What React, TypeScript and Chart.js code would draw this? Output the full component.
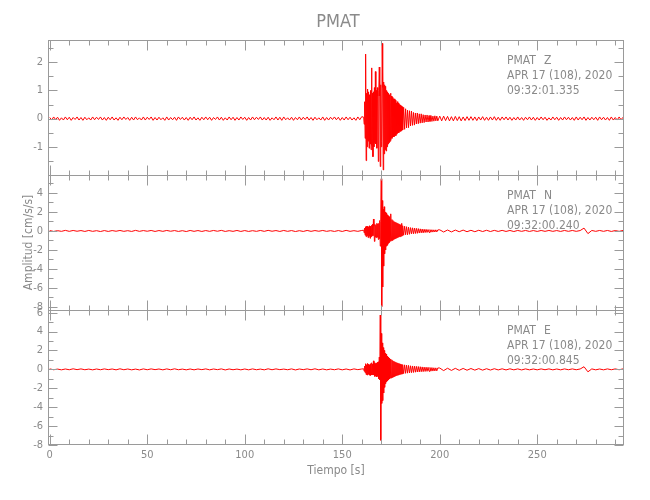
import React, { useEffect, useRef } from "react";
import { Chart, registerables } from "chart.js";

Chart.register(...registerables);

// ---------------- data ----------------
const STATION = "PMAT";
const DATE_LABEL = "APR 17 (108), 2020";
const COMPONENTS = ["Z", "N", "E"];
const START_TIMES = ["09:32:01.335", "09:32:00.240", "09:32:00.845"];
const X_TITLE = "Tiempo [s]";
const Y_TITLE = "Amplitud [cm/s/s]";

const X_TICKS = [0, 50, 100, 150, 200, 250];
const X_MINOR_STEP = 10;
const X_RANGE = [-0.9, 294.5];

const Z_TICKS = [-1, 0, 1, 2];
const N_TICKS = [-8, -6, -4, -2, 0, 2, 4];
const E_TICKS = [-8, -6, -4, -2, 0, 2, 4, 6];
const Z_RANGE = [-2.0, 2.79];
const N_RANGE = [-8.32, 5.89];
const E_RANGE = [-8.0, 6.28];
const Z_MINOR_STEP = 0.5;
const N_MINOR_STEP = 1;
const E_MINOR_STEP = 1;

// sampling: [start time (s), sample step (s)]
const Z_PRE_SAMPLING = [0, 1];
const NE_PRE_SAMPLING = [0, 2];
const ONSET_SAMPLING = [161, 0.25];
const DECAY_SAMPLING = [181.5, 0.5];
const Z_CODA_SAMPLING = [200, 1];
const NE_CODA_SAMPLING = [200, 2];

// Z component (cm/s/s)
const Z_PRE = [
  0.04, -0.05, 0.06, -0.03, 0.05, -0.06, 0.03, -0.05, 0.06, -0.04,
  0.05, -0.06, 0.04, -0.03, 0.06, -0.05, 0.04, -0.06, 0.05, -0.04,
  0.03, -0.05, 0.06, -0.04, 0.05, -0.03, 0.06, -0.05, 0.04, -0.06,
  0.05, -0.04, 0.06, -0.05, 0.03, -0.06, 0.05, -0.04, 0.06, -0.03,
  0.04, -0.06, 0.05, -0.05, 0.06, -0.04, 0.03, -0.05, 0.06, -0.05,
  0.05, -0.03, 0.06, -0.06, 0.04, -0.05, 0.05, -0.04, 0.03, -0.06,
  0.06, -0.05, 0.04, -0.04, 0.05, -0.06, 0.06, -0.03, 0.05, -0.05,
  0.04, -0.06, 0.05, -0.04, 0.06, -0.05, 0.03, -0.06, 0.05, -0.04,
  0.06, -0.04, 0.05, -0.06, 0.04, -0.03, 0.06, -0.05, 0.05, -0.06,
  0.03, -0.05, 0.06, -0.04, 0.05, -0.06, 0.04, -0.05, 0.06, -0.03,
  0.05, -0.06, 0.04, -0.05, 0.06, -0.04, 0.05, -0.03, 0.06, -0.05,
  0.04, -0.05, 0.05, -0.06, 0.03, -0.04, 0.06, -0.05, 0.05, -0.06,
  0.06, -0.04, 0.03, -0.05, 0.05, -0.06, 0.04, -0.04, 0.06, -0.05,
  0.05, -0.03, 0.06, -0.05, 0.04, -0.06, 0.05, -0.04, 0.03, -0.05,
  0.06, -0.06, 0.04, -0.05, 0.05, -0.03, 0.06, -0.04, 0.05, -0.06,
  0.04, -0.05, 0.06, -0.04, 0.05, -0.05, 0.03, -0.06, 0.06, -0.04,
  0.07,
];
const Z_ONSET = [
  0.05, -0.2, 0.6, -0.7, 2.29, -1.49, 0.9, -1.0, 1.05, -0.8,
  0.95, -1.05, 0.85, -0.9, 1.0, -1.1, 1.8, -0.95, 0.9, -1.35,
  0.95, -1.0, 1.1, -0.85, 1.67, -0.9, 1.0, -1.05, 1.1, 0.8,
  -1.52, 1.0, 1.83, 0.8, -1.7, 1.2, -1.0, -0.8, 2.67, 1.1,
  -1.82, 1.3, -1.25, 1.2, -1.1, 1.15, -1.15, 1.0, -1.0, 0.95,
  -0.9, 0.9, -0.85, 0.85, -0.8, 0.9, -0.75, 0.8, -0.7, 0.75,
  -0.65, 0.7, -0.65, 0.7, -0.6, 0.65, -0.6, 0.55, -0.55, 0.6,
  -0.5, 0.55, -0.5, 0.5, -0.45, 0.48, -0.45, 0.45, -0.42, 0.42,
  -0.4,
];
const Z_DECAY = [
  0.4, -0.38, 0.35, -0.33, 0.3, -0.32, 0.28, -0.26, 0.27, -0.24,
  0.22, -0.23, 0.2, -0.19, 0.2, -0.18, 0.17, -0.16, 0.17, -0.15,
  0.14, -0.14, 0.13, -0.12, 0.13, -0.12, 0.11, -0.1, 0.11, -0.1,
  0.09, -0.09, 0.1, -0.08, 0.09, -0.08,
];
const Z_CODA = [
  0.09, -0.08, 0.09, -0.07, 0.08, -0.08, 0.07, -0.08, 0.08, -0.07,
  0.07, -0.08, 0.06, -0.07, 0.07, -0.06, 0.07, -0.06, 0.06, -0.07,
  0.06, -0.05, 0.07, -0.06, 0.05, -0.06, 0.06, -0.05, 0.07, -0.06,
  0.05, -0.06, 0.06, -0.04, 0.06, -0.05, 0.05, -0.06, 0.04, -0.05,
  0.06, -0.05, 0.04, -0.06, 0.05, -0.04, 0.06, -0.05, 0.05, -0.06,
  0.04, -0.05, 0.06, -0.04, 0.05, -0.06, 0.03, -0.05, 0.06, -0.04,
  0.05, -0.06, 0.04, -0.05, 0.06, -0.04, 0.05, -0.05, 0.04, -0.06,
  0.06, -0.05, 0.05, -0.04, 0.06, -0.06, 0.04, -0.05, 0.05, -0.04,
  0.05, -0.06, 0.06, -0.04, 0.05, -0.05, 0.04, -0.06, 0.06, -0.05,
  0.04, -0.05, 0.06, -0.04, 0.05,
];

// N component (cm/s/s)
const N_PRE = [
  0.04, -0.05, 0.03, -0.04, 0.06, -0.04, 0.05, -0.03, 0.04, -0.05,
  0.05, -0.04, 0.03, -0.06, 0.04, -0.05, 0.04, -0.03, 0.05, -0.04,
  0.03, -0.05, 0.06, -0.04, 0.04, -0.03, 0.05, -0.05, 0.04, -0.04,
  0.05, -0.03, 0.04, -0.05, 0.03, -0.06, 0.05, -0.04, 0.04, -0.05,
  0.04, -0.04, 0.05, -0.03, 0.06, -0.05, 0.03, -0.04, 0.05, -0.05,
  0.04, -0.05, 0.03, -0.04, 0.05, -0.04, 0.06, -0.03, 0.04, -0.05,
  0.05, -0.04, 0.04, -0.06, 0.03, -0.05, 0.05, -0.04, 0.04, -0.03,
  0.05, -0.04, 0.03, -0.05, 0.04, -0.05, 0.06, -0.04, 0.03, -0.04,
  0.05,
];
const N_ONSET = [
  0.08, -0.2, 0.3, -0.45, 0.45, -0.6, 0.5, -0.5, 0.5, -0.7,
  0.45, -0.55, 0.55, -0.77, 0.5, -0.6, 0.6, -0.55, 0.7, -0.5,
  1.26, 0.5, -1.1, 0.7, -0.65, 0.6, -0.7, 0.8, -0.65, 0.75,
  -0.9, 0.8, -0.8, 1.1, -1.6, 1.0, 5.5, -7.97, 3.2, -5.9,
  2.3, -3.7, 2.55, -2.4, 2.0, -2.0, 1.9, -1.6, 1.7, -1.5,
  1.6, -1.3, 1.5, -1.2, 1.3, -1.1, 1.8, -1.0, 1.2, -1.0,
  1.1, -0.9, 1.0, -0.85, 0.95, -0.8, 0.9, -0.75, 0.85, -0.7,
  0.8, -0.65, 0.75, -0.6, 0.7, -0.6, 0.65, -0.55, 0.8, -0.5,
  0.55,
];
const N_DECAY = [
  -0.45, 0.5, -0.4, 0.45, -0.4, 0.4, -0.35, 0.35, -0.3, 0.33,
  -0.3, 0.3, -0.27, 0.28, -0.25, 0.25, -0.22, 0.22, -0.2, 0.2,
  -0.2, 0.18, -0.17, 0.17, -0.16, 0.15, -0.15, 0.14, -0.13, 0.13,
  -0.12, 0.12, -0.11, 0.12, -0.1, 0.11,
];
const N_CODA = [
  0.12, -0.11, 0.1, -0.1, 0.09, -0.08, 0.09, -0.08, 0.07, -0.08,
  0.07, -0.06, 0.07, -0.06, 0.06, -0.05, 0.06, -0.05, 0.05, -0.06,
  0.05, -0.04, 0.05, -0.05, 0.04, -0.05, 0.05, -0.04, 0.05, -0.04,
  0.04, -0.05, 0.05, -0.04, 0.05, -0.04, 0.04, 0.3, -0.28, 0.05,
  -0.04, 0.05, -0.04, 0.05, -0.05, 0.04, -0.04, 0.05,
];

// E component (cm/s/s)
const E_PRE = [
  0.05, -0.04, 0.03, -0.05, 0.04, -0.04, 0.06, -0.03, 0.05, -0.04,
  0.03, -0.05, 0.04, -0.04, 0.05, -0.03, 0.04, -0.05, 0.06, -0.04,
  0.04, -0.05, 0.03, -0.06, 0.05, -0.04, 0.05, -0.03, 0.04, -0.05,
  0.05, -0.04, 0.06, -0.04, 0.03, -0.05, 0.04, -0.05, 0.04, -0.03,
  0.05, -0.05, 0.04, -0.03, 0.05, -0.06, 0.04, -0.04, 0.03, -0.05,
  0.04, -0.05, 0.05, -0.04, 0.03, -0.05, 0.06, -0.04, 0.05, -0.03,
  0.03, -0.04, 0.05, -0.06, 0.04, -0.03, 0.05, -0.04, 0.06, -0.05,
  0.04, -0.05, 0.03, -0.04, 0.05, -0.05, 0.04, -0.06, 0.05, -0.03,
  0.04,
];
const E_ONSET = [
  0.06, -0.2, 0.35, -0.35, 0.6, -0.55, 0.5, -0.6, 0.63, -0.5,
  0.55, -0.6, 0.5, -0.65, 0.6, -0.5, 0.7, -0.6, 0.55, -0.6,
  0.9, -0.6, 0.7, -0.75, 0.6, -0.7, 0.65, -0.8, 0.75, -0.7,
  0.8, -1.0, 1.3, -1.1, 5.75, -7.5, 3.8, -3.6, 2.8, -3.3,
  2.3, -2.5, 2.0, -1.9, 1.7, -1.5, 1.6, -1.3, 1.4, -1.2,
  1.3, -1.1, 1.2, -1.0, 1.1, -0.95, 1.05, -0.9, 1.0, -0.85,
  0.9, -0.8, 0.85, -0.75, 0.8, -0.7, 0.75, -0.65, 0.7, -0.62,
  0.68, -0.6, 0.62, -0.55, 0.6, -0.52, 0.56, -0.5, 0.52, -0.48,
  0.5,
];
const E_DECAY = [
  -0.45, 0.48, -0.42, 0.45, -0.4, 0.42, -0.38, 0.38, -0.35, 0.36,
  -0.33, 0.34, -0.3, 0.32, -0.28, 0.3, -0.27, 0.28, -0.25, 0.26,
  -0.24, 0.24, -0.22, 0.23, -0.21, 0.22, -0.2, 0.2, -0.19, 0.19,
  -0.18, 0.17, -0.17, 0.16, -0.16, 0.15,
];
const E_CODA = [
  0.14, -0.13, 0.12, -0.11, 0.11, -0.1, 0.1, -0.09, 0.09, -0.08,
  0.08, -0.08, 0.07, -0.07, 0.07, -0.06, 0.06, -0.06, 0.06, -0.05,
  0.05, -0.06, 0.05, -0.05, 0.04, -0.05, 0.05, -0.04, 0.05, -0.05,
  0.04, -0.05, 0.05, -0.04, 0.05, -0.04, 0.04, 0.28, -0.26, 0.05,
  -0.05, 0.04, -0.05, 0.05, -0.04, 0.05, -0.04, 0.05,
];

// ---------------- styling ----------------
const TRACE_COLOR = "#ff0000";
const TEXT_COLOR = "#8a8a8a";
const FRAME_COLOR = "#9a9a9a";
const NARROW = "'Liberation Sans Narrow', 'DejaVu Sans Condensed', 'Liberation Sans', sans-serif";
const COND = "'DejaVu Sans Condensed', 'Liberation Sans Narrow', sans-serif";

type Pt = { x: number; y: number };
function series(parts: [number[], number[]][]): Pt[] {
  const out: Pt[] = [];
  for (const [[t0, dt], vals] of parts) {
    vals.forEach((v, i) => out.push({ x: t0 + i * dt, y: v }));
  }
  return out;
}

const PANELS = [
  { id: "yZ", ticks: Z_TICKS, range: Z_RANGE, minor: Z_MINOR_STEP, major: 1, weight: 3,
    data: () => series([[Z_PRE_SAMPLING, Z_PRE], [ONSET_SAMPLING, Z_ONSET], [DECAY_SAMPLING, Z_DECAY], [Z_CODA_SAMPLING, Z_CODA]]) },
  { id: "yN", ticks: N_TICKS, range: N_RANGE, minor: N_MINOR_STEP, major: 2, weight: 2,
    data: () => series([[NE_PRE_SAMPLING, N_PRE], [ONSET_SAMPLING, N_ONSET], [DECAY_SAMPLING, N_DECAY], [NE_CODA_SAMPLING, N_CODA]]) },
  { id: "yE", ticks: E_TICKS, range: E_RANGE, minor: E_MINOR_STEP, major: 2, weight: 1,
    data: () => series([[NE_PRE_SAMPLING, E_PRE], [ONSET_SAMPLING, E_ONSET], [DECAY_SAMPLING, E_DECAY], [NE_CODA_SAMPLING, E_CODA]]) },
];

const crisp = (v: number) => Math.round(v) + 0.5;

const framePlugin = {
  id: "seisFrame",
  afterDatasetsDraw(chart: any) {
    const { ctx, chartArea } = chart;
    const xs = chart.scales.x;
    const L = crisp(chartArea.left);
    const R = crisp(chartArea.right) - 1;
    ctx.save();
    ctx.strokeStyle = FRAME_COLOR;
    ctx.lineWidth = 1;
    const seg = (x1: number, y1: number, x2: number, y2: number) => {
      ctx.beginPath();
      ctx.moveTo(x1, y1);
      ctx.lineTo(x2, y2);
      ctx.stroke();
    };
    PANELS.forEach((p, idx) => {
      const ys = chart.scales[p.id];
      const T = crisp(ys.top);
      const B = crisp(ys.bottom) - (idx === PANELS.length - 1 ? 1 : 0);
      ctx.strokeRect(L, T, R - L, B - T);
      const k0 = Math.ceil(X_RANGE[0] / X_MINOR_STEP);
      const k1 = Math.floor(X_RANGE[1] / X_MINOR_STEP);
      for (let k = k0; k <= k1; k++) {
        const v = k * X_MINOR_STEP;
        const px = crisp(xs.getPixelForValue(v));
        const len = v % 50 === 0 ? 10 : 5;
        seg(px, T, px, T + len);
        seg(px, B, px, B - len);
      }
      const j0 = Math.ceil(p.range[0] / p.minor - 1e-9);
      const j1 = Math.floor(p.range[1] / p.minor + 1e-9);
      for (let j = j0; j <= j1; j++) {
        const v = j * p.minor;
        const py = crisp(ys.getPixelForValue(v));
        const isMajor = Math.abs(v / p.major - Math.round(v / p.major)) < 1e-6;
        const len = isMajor ? 9 : 5;
        seg(L, py, L + len, py);
        seg(R, py, R - len, py);
      }
    });
    ctx.restore();
  },
  afterDraw(chart: any) {
    const { ctx, chartArea } = chart;
    ctx.save();
    ctx.fillStyle = TEXT_COLOR;
    ctx.textBaseline = "middle";
    ctx.textAlign = "center";
    ctx.font = `18px ${NARROW}`;
    ctx.fillText(STATION, (chartArea.left + chartArea.right) / 2 + 2, 22);
    ctx.textAlign = "left";
    ctx.font = `12px ${COND}`;
    PANELS.forEach((p, i) => {
      const ys = chart.scales[p.id];
      const x0 = chartArea.right - 117;
      ctx.fillText(STATION, x0, ys.top + 21);
      ctx.fillText(COMPONENTS[i], x0 + 37, ys.top + 21);
      ctx.fillText(DATE_LABEL, x0, ys.top + 36);
      ctx.fillText(START_TIMES[i], x0, ys.top + 50.5);
    });
    ctx.restore();
  },
};

export default function App() {
  const ref = useRef<HTMLCanvasElement | null>(null);
  useEffect(() => {
    if (!ref.current) return;
    const tickFont = { family: NARROW, size: 11 };
    const scales: any = {
      x: {
        type: "linear",
        position: "bottom",
        min: X_RANGE[0],
        max: X_RANGE[1],
        grid: { display: false, drawTicks: false },
        border: { display: false },
        afterBuildTicks: (s: any) => { s.ticks = X_TICKS.map((v) => ({ value: v })); },
        afterFit: (s: any) => { s.height = 55; },
        ticks: { color: TEXT_COLOR, font: tickFont, padding: 4, maxRotation: 0, autoSkip: false },
        title: { display: true, text: X_TITLE, color: TEXT_COLOR, font: { family: NARROW, size: 12 }, padding: { top: 0, bottom: 22 } },
      },
    };
    PANELS.forEach((p) => {
      scales[p.id] = {
        type: "linear",
        position: "left",
        stack: "seis",
        stackWeight: 1,
        weight: p.weight,
        min: p.range[0],
        max: p.range[1],
        grid: { display: false, drawTicks: false },
        border: { display: false },
        afterBuildTicks: (s: any) => { s.ticks = p.ticks.map((v) => ({ value: v })); },
        afterFit: (s: any) => { s.width = 48; },
        ticks: { color: TEXT_COLOR, font: tickFont, padding: 5, autoSkip: false },
        title: p.id === "yN"
          ? { display: true, text: Y_TITLE, color: TEXT_COLOR, font: { family: NARROW, size: 12 }, padding: { top: 22, bottom: 0 } }
          : { display: false },
      };
    });
    const chart = new Chart(ref.current, {
      type: "line",
      data: {
        datasets: PANELS.map((p) => ({
          data: p.data(),
          xAxisID: "x",
          yAxisID: p.id,
          borderColor: TRACE_COLOR,
          borderWidth: 1,
          pointRadius: 0,
          tension: 0,
          fill: false,
        })),
      },
      options: {
        responsive: false,
        animation: false,
        parsing: false,
        devicePixelRatio: 1,
        layout: { padding: { left: 0, right: 26, top: 40, bottom: 0 } },
        plugins: { legend: { display: false }, tooltip: { enabled: false }, title: { display: false } },
        scales,
      },
      plugins: [framePlugin],
    } as any);
    return () => chart.destroy();
  }, []);
  return (
    <div style={{ position: "fixed", left: 0, top: 0, width: 650, height: 500, background: "#fff" }}>
      <canvas ref={ref} width={650} height={500} />
    </div>
  );
}
